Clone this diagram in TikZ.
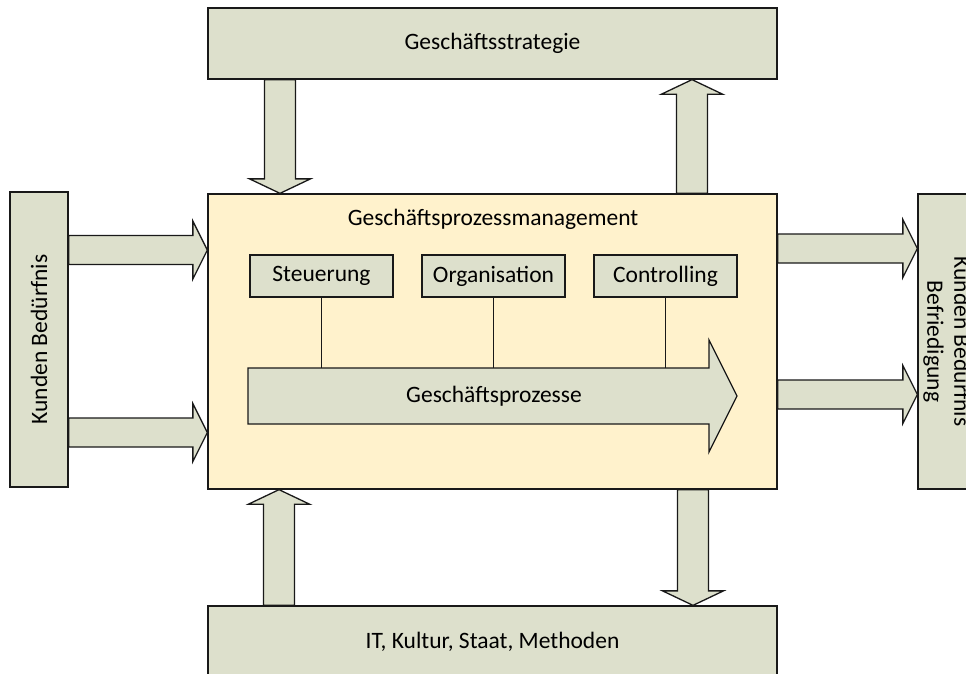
\documentclass[tikz,border=0pt]{standalone}
\usepackage{fontspec}
\setmainfont{Carlito}
\usetikzlibrary{calc}
\definecolor{boxgreen}{RGB}{221,224,204}
\definecolor{boxcream}{RGB}{255,242,204}
\definecolor{edge}{RGB}{25,25,25}
\tikzset{
  every node/.style={font=\fontsize{23.5}{27}\selectfont, text=black},
  plainbox/.style={draw=edge, line width=1.3pt, fill=boxgreen, inner sep=0pt},
  mainbox/.style={draw=edge, line width=1.3pt, fill=boxcream, inner sep=0pt},
  % block arrow from start to target: #1 half shaft width, #2 half head width, #3 head length
  barrow/.style n args={3}{draw=edge, line width=1.3pt, fill=boxgreen, line join=miter,
    to path={
      ($(\tikztostart)!#1!90:(\tikztotarget)$)
      -- ($($(\tikztotarget)!#3!(\tikztostart)$)!#1!90:(\tikztotarget)$)
      -- ($($(\tikztotarget)!#3!(\tikztostart)$)!#2!90:(\tikztotarget)$)
      -- (\tikztotarget)
      -- ($($(\tikztotarget)!#3!(\tikztostart)$)!#2!-90:(\tikztotarget)$)
      -- ($($(\tikztotarget)!#3!(\tikztostart)$)!#1!-90:(\tikztotarget)$)
      -- ($(\tikztostart)!#1!-90:(\tikztotarget)$)
      -- cycle}},
  varrow/.style={barrow={15.5pt}{30.5pt}{14.5pt}},
  harrow/.style={barrow={14.5pt}{29pt}{14.5pt}},
}
\begin{document}
\begin{tikzpicture}[x=1pt, y=-1pt]
  \useasboundingbox (0,0) rectangle (966,673);

  % outer boxes
  \node[plainbox, minimum width=569pt, minimum height=71pt] (strat) at (492.5,43.5) {Geschäftsstrategie};
  \node[mainbox, minimum width=569pt, minimum height=295pt] (gpm) at (492.5,341.5) {};
  \node[plainbox, minimum width=569pt, minimum height=71pt] (env) at (492.5,641.5) {IT, Kultur, Staat, Methoden};
  \node[plainbox, minimum width=58pt, minimum height=295pt] (need) at (39,339.5) {};
  \node[rotate=90] (needtxt) at (need.center) {Kunden Bedürfnis};
  \node[plainbox, minimum width=58pt, minimum height=295pt] (sat) at (947,341.5) {};
  \node[rotate=-90, align=center] (sattxt) at (sat.center) {Kunden Bedürfnis\\Befriedigung};

  % inside the management box
  \node (gpmtitle) at (493,219) {Geschäftsprozessmanagement};
  \node[plainbox, minimum width=143pt, minimum height=42pt] (steu) at (321.5,276) {Steuerung};
  \node[plainbox, minimum width=143pt, minimum height=42pt] (orga) at (493.5,276) {Organisation};
  \node[plainbox, minimum width=143pt, minimum height=42pt] (ctrl) at (665.5,276) {Controlling};

  % process arrow
  \coordinate (gpstart) at (248,396);
  \coordinate (gptip) at (737,396);
  \draw[barrow={28pt}{56pt}{28pt}] (gpstart) to (gptip);
  \coordinate (gptop) at (248,368);
  \node (gp) at (494,396) {Geschäftsprozesse};

  \draw[edge, line width=1.3pt] (steu.south) -- (steu.south |- gptop);
  \draw[edge, line width=1.3pt] (orga.south) -- (orga.south |- gptop);
  \draw[edge, line width=1.3pt] (ctrl.south) -- (ctrl.south |- gptop);

  % vertical exchange arrows
  \coordinate (v1) at (280,0);
  \coordinate (v2) at (692,0);
  \coordinate (v3) at (279,0);
  \coordinate (v4) at (693,0);
  \draw[varrow] (strat.south -| v1) to (gpm.north -| v1);
  \draw[varrow] (gpm.north -| v2) to (strat.south -| v2);
  \draw[varrow] (env.north -| v3) to (gpm.south -| v3);
  \draw[varrow] (gpm.south -| v4) to (env.north -| v4);

  % horizontal arrows
  \coordinate (h1) at (0,250);
  \coordinate (h2) at (0,432.5);
  \coordinate (h3) at (0,248.5);
  \coordinate (h4) at (0,394.5);
  \draw[harrow] (need.east |- h1) to (gpm.west |- h1);
  \draw[harrow] (need.east |- h2) to (gpm.west |- h2);
  \draw[harrow] (gpm.east |- h3) to (sat.west |- h3);
  \draw[harrow] (gpm.east |- h4) to (sat.west |- h4);
\end{tikzpicture}
\end{document}
